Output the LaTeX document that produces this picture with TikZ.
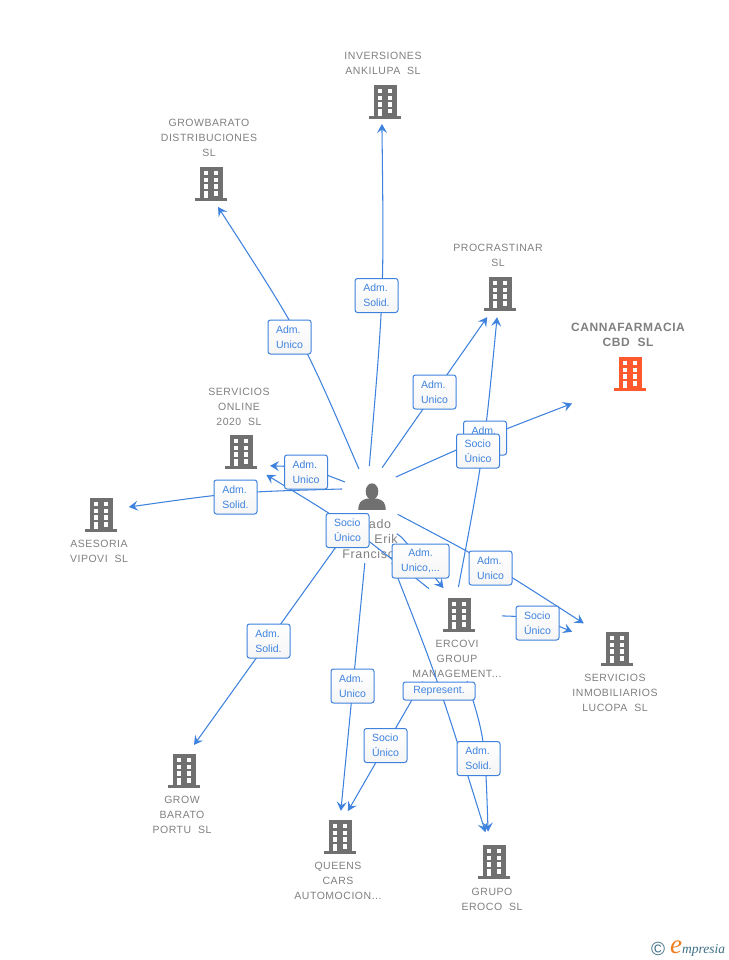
\documentclass[tikz,border=0pt]{standalone}
\usepackage{fontspec}
\setmainfont{Liberation Sans}
\newfontfamily\capfont[LetterSpace=5]{Liberation Sans}
\newfontfamily\logofont{Liberation Serif}
\usetikzlibrary{arrows.meta}
\definecolor{lnblue}{RGB}{62,130,222}
\definecolor{capgray}{RGB}{128,128,128}
\definecolor{icongray}{RGB}{112,112,112}
\definecolor{hotorange}{RGB}{255,90,45}
\definecolor{logoteal}{RGB}{62,112,135}
\definecolor{logoorange}{RGB}{240,125,30}
\tikzset{
  x=1pt,y=-1pt,
  edge/.style={draw=lnblue,line width=1.05pt,-{Stealth[length=9pt,width=10pt,inset=3.5pt]}},
  anch/.style={circle,inner sep=0pt,outer sep=0pt,minimum size=2*#1 pt},
  lbl/.style={draw=lnblue,line width=1pt,rounded corners=2.5pt,top color=white,bottom color=black!4,
     text=lnblue,inner sep=0pt,minimum width=43pt,minimum height=34pt,
     font=\fontsize{10.5pt}{15pt}\selectfont,align=left},
  captxt/.style={text=capgray,align=center,inner sep=0pt,font=\capfont\fontsize{10.5pt}{15pt}\selectfont},
  pics/bldg/.style={code={
    \fill[#1] (-11.5,-17.3) rectangle (11.5,15);
    \fill[#1] (-16,14.2) rectangle (16,16.8);
    \foreach \yy in {-13,-6,0.4,7.2}{
      \fill[white] (-7.3,\yy) rectangle (-2.7,\yy+4.3);
      \fill[white] (2.7,\yy) rectangle (7.3,\yy+4.3);
    }
    \fill[white] (-7.3,7.2) rectangle (-2.7,14.2);
  }}
}
\begin{document}
\begin{tikzpicture}
\useasboundingbox (0,0) rectangle (728,960);
\fill[white] (0,0) rectangle (728,960);

% anchors
\node[anch=31] (person) at (372,497) {};
\node[anch=22.2] (inv) at (385,102) {};
\node[anch=24] (gbd) at (211,184) {};
\node[anch=26.4] (proc) at (500,294) {};
\node[anch=65] (canna) at (630,374) {};
\node[anch=34] (onl) at (241,452) {};
\node[anch=29] (ase) at (101,515) {};
\node[anch=27.9] (gbp) at (184,771) {};
\node[anch=27.2] (que) at (340,837) {};
\node[anch=31] (gru) at (494,862) {};
\node[anch=48] (inm) at (617,649) {};
\node[anch=31] (erc) at (459,615) {};

% icons
\pic at (inv) {bldg=icongray};
\pic at (gbd) {bldg=icongray};
\pic at (proc) {bldg=icongray};
\pic at (canna) {bldg=hotorange};
\pic at (onl) {bldg=icongray};
\pic at (ase) {bldg=icongray};
\pic at (gbp) {bldg=icongray};
\pic at (que) {bldg=icongray};
\pic at (gru) {bldg=icongray};
\pic at (inm) {bldg=icongray};
\pic at (erc) {bldg=icongray};
% person icon
\fill[icongray] (372,491.5) ellipse (6.3 and 8.2);
\fill[icongray] (358.3,509.8) .. controls (358.5,502) and (361,500.5) .. (367,498.5)
   -- (377,498.5) .. controls (383,500.5) and (385.5,502) .. (385.7,509.8) -- cycle;

% captions
\node[captxt] (tinv) at (383,63.5) {INVERSIONES\\ANKILUPA\ \ SL};
\node[captxt] (tgbd) at (209,138) {GROWBARATO\\DISTRIBUCIONES\\SL};
\node[captxt] (tproc) at (498,255.5) {PROCRASTINAR\\SL};
\node[captxt,font=\capfont\bfseries\fontsize{12pt}{15.5pt}\selectfont] (tcanna) at (628,335) {CANNAFARMACIA\\CBD\ \ SL};
\node[captxt] (tonl) at (239,407) {SERVICIOS\\ONLINE\\2020\ \ SL};
\node[captxt] (tase) at (99,551.5) {ASESORIA\\VIPOVI\ \ SL};
\node[captxt] (terc) at (457,659) {ERCOVI\\GROUP\\MANAGEMENT...};
\node[captxt] (tinm) at (615,693) {SERVICIOS\\INMOBILIARIOS\\LUCOPA\ \ SL};
\node[captxt] (tgbp) at (182,815) {GROW\\BARATO\\PORTU\ \ SL};
\node[captxt] (tque) at (338,881) {QUEENS\\CARS\\AUTOMOCION...};
\node[captxt] (tgru) at (492,899.5) {GRUPO\\EROCO\ \ SL};
\node[captxt,font=\capfont\fontsize{12.5pt}{15pt}\selectfont,anchor=base] (pn1) at (380,528) {ado};
\node[captxt,font=\capfont\fontsize{12.5pt}{15pt}\selectfont,anchor=base] (pn2) at (386,543) {Erik};
\node[captxt,font=\capfont\fontsize{12.5pt}{15pt}\selectfont,anchor=base] (pn3) at (372,558) {Francisco};

% connectors
\draw[edge] (person.95) .. controls (384,294) .. (inv.262);
\draw[edge] (person.115.8) .. controls (302,337) .. (gbd.-73);
\draw[edge] (person.71) -- (proc.-119.5);
\draw[edge] (person.40) .. controls (485,437) .. (canna.-153.4);
\draw[edge,shorten >=-2pt] (person.151) .. controls (306,467) .. (onl.-24);
\draw[edge] (person.165.5) .. controls (235,492) .. (ase.16);
\draw[edge,shorten >=-6pt] (person.-34.7) .. controls (490,563) .. (inm.143.7);
\draw[edge,shorten <=15pt] (person.-67) .. controls (402,537) .. (erc.120.6);
\draw[edge,shorten <=38pt] (person.-79) .. controls (438,680) .. (gru.106.7);
\draw[edge,shorten <=35.6pt,shorten >=-1pt] (person.-97.8) -- (que.88);
\draw[edge] (person.-126) -- (gbp.69);
\draw[edge,shorten <=-3pt,shorten >=-3pt] (erc.90) .. controls (484,452) .. (proc.-97);
\draw[edge,shorten <=9pt] (erc.138) .. controls (348.5,524.5) .. (onl.-42.6);
\draw[edge,shorten <=12pt] (erc.-1) .. controls (537,617) .. (inm.159.3);
\draw[edge,shorten <=37pt] (erc.-95) .. controls (485,739) .. (gru.101.3);
\draw[edge,shorten <=45pt] (erc.-117) -- (que.73);

% connector labels
\node[lbl] (l1) at (376.5,295.5) {Adm.\\Solid.};
\node[lbl] (l2) at (289.5,337) {Adm.\\Unico};
\node[lbl] (l3) at (434.5,392) {Adm.\\Unico};
\node[lbl] (l4) at (485,438) {Adm.\\Unico};
\node[lbl] (l5) at (478,451) {Socio\\Único};
\node[lbl] (l6) at (306,472) {Adm.\\Unico};
\node[lbl] (l7) at (235.5,497) {Adm.\\Solid.};
\node[lbl] (l8) at (347.5,530.5) {Socio\\Único};
\node[lbl,minimum width=57pt,align=center] (l9) at (420.5,561) {Adm.\\Unico,...};
\node[lbl] (l10) at (490.5,568) {Adm.\\Unico};
\node[lbl] (l11) at (537.5,623) {Socio\\Único};
\node[lbl] (l12) at (268.5,641) {Adm.\\Solid.};
\node[lbl] (l13) at (352.5,686) {Adm.\\Unico};
\node[lbl,minimum width=72pt,minimum height=18pt] (l14) at (439,691) {Represent.};
\node[lbl] (l15) at (385.5,745.5) {Socio\\Único};
\node[lbl] (l16) at (478.5,758.5) {Adm.\\Solid.};

% logo
\node[text=logoteal,inner sep=0pt,font=\fontsize{19pt}{19pt}\selectfont] (lc) at (658,948.5) {©};
\node[inner sep=0pt,anchor=base west] (lg) at (670,953.5) {\logofont\itshape{\color{logoorange}\fontsize{27pt}{27pt}\selectfont e}{\color{logoteal}\fontsize{13.5pt}{14pt}\selectfont mpresia}};
\end{tikzpicture}
\end{document}
